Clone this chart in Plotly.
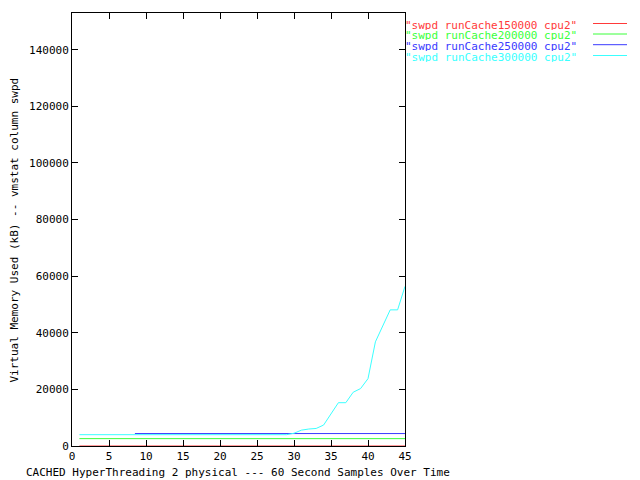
import plotly.graph_objects as go

series_names = ['"swpd runCache150000 cpu2"', '"swpd runCache200000 cpu2"',
                '"swpd runCache250000 cpu2"', '"swpd runCache300000 cpu2"']
colors = ["#ff3a3a", "#3aff3a", "#3a3aff", "#3affff"]

x_red = [1, 45]
y_red = [0, 0]
x_green = [1, 45]
y_green = [2600, 2600]
x_blue = [8.5, 45]
y_blue = [4400, 4400]
x_cyan = [1, 29, 30, 31, 32, 33, 34, 35, 36, 37, 38, 39, 40, 41, 42, 43, 44, 45]
y_cyan = [4000, 4000, 4500, 5600, 6000, 6200, 7400, 11200, 15300, 15300, 19000,
          20300, 23800, 36800, 42300, 48100, 48100, 56400]

x_ticks = list(range(0, 50, 5))
y_ticks = list(range(0, 160000, 20000))

x_title = "CACHED HyperThreading 2 physical --- 60 Second Samples Over Time"
y_title = "Virtual Memory Used (kB) -- vmstat column swpd"

xs = [x_red, x_green, x_blue, x_cyan]
ys = [y_red, y_green, y_blue, y_cyan]

font = dict(family="DejaVu Sans Mono", size=11, color="black")

OFF = 8  # page body margin
W, H = 640, 480
# plot area in page pixels
L, R, T, B = 72 - OFF, 405 - OFF, 13 - OFF, 446 - OFF
PW, PH = R - L, B - T


def px(xp):
    return (xp - OFF - L) / PW


def py(yp):
    return 1 - (yp - OFF - T) / PH


fig = go.Figure()
for name, c, x, y in zip(series_names, colors, xs, ys):
    fig.add_trace(go.Scatter(x=x, y=y, mode="lines", name=name,
                             line=dict(color=c, width=1), showlegend=False))

# gnuplot-style key: text then sample line, outside right
row_y = [23.5, 34, 44.7, 55.5]
for i, (name, c) in enumerate(zip(series_names, colors)):
    fig.add_annotation(xref="paper", yref="paper", x=px(404), y=py(row_y[i] + 1.5),
                       text=name, showarrow=False, xanchor="left", yanchor="middle",
                       height=10, valign="middle", borderpad=0,
                       font=dict(family="DejaVu Sans Mono", size=11, color=c))
    fig.add_shape(type="line", xref="paper", yref="paper",
                  x0=px(593), x1=px(627), y0=py(row_y[i]), y1=py(row_y[i]),
                  line=dict(color=c, width=1))

# axis titles
fig.add_annotation(xref="paper", yref="paper", x=px(238), y=py(472),
                   text=x_title, showarrow=False, xanchor="center", yanchor="middle",
                   font=font)
fig.add_annotation(xref="paper", yref="paper", x=px(13.5), y=py(230),
                   text=y_title, showarrow=False, xanchor="center", yanchor="middle",
                   textangle=-90, font=font)

axis_common = dict(showline=True, linecolor="black", linewidth=1, mirror="ticks",
                   ticks="inside", ticklen=6, tickcolor="black", showgrid=False,
                   zeroline=False, tickfont=font, automargin=False)

fig.update_layout(
    width=W, height=H,
    margin=dict(l=L, r=W - R, t=T, b=H - B),
    paper_bgcolor="white", plot_bgcolor="white",
    font=font,
    xaxis=dict(range=[0, 45], tickvals=x_ticks, ticktext=[str(v) for v in x_ticks],
               **axis_common),
    yaxis=dict(range=[0, 153000], tickvals=y_ticks, ticktext=[str(v) for v in y_ticks],
               **axis_common),
)

fig.write_html("out.html")
